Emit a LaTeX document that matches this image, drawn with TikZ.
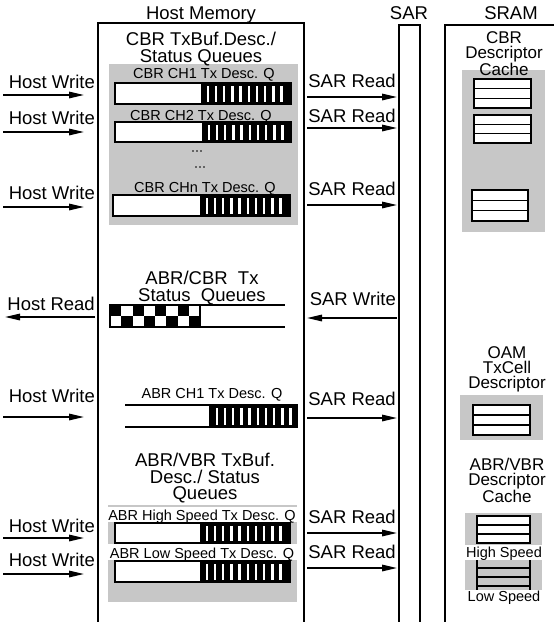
\documentclass[tikz,border=0pt]{standalone}
\usepackage{fontspec}
\setmainfont{Liberation Sans}
\usetikzlibrary{arrows.meta}
\newcommand\qbar[5]{%
  \fill[white] (#1,#4) rectangle (#3,#5);
  \fill[black] (#2,#4) rectangle (#3,#5);
  \pgfmathtruncatemacro\qn{(#3-#2-10)/8.2}%
  \foreach \k in {0,...,\qn}{\fill[white] ({#2+5.5+\k*8.2},{#4+2.5}) rectangle ({#2+8+\k*8.2},{#5-2.5});}%
  \draw[line width=1.4pt] (#1,#4) rectangle (#3,#5);}
\newcommand\dblock[5]{%
  \fill[white] (#1,#2) rectangle (#3,#4);
  \draw[line width=1.2pt] (#1,{#2+(#4-#2)/3}) -- (#3,{#2+(#4-#2)/3}) (#1,{#2+2*(#4-#2)/3}) -- (#3,{#2+2*(#4-#2)/3});
  \draw[line width=#5] (#1,#2) rectangle (#3,#4);}
\begin{document}
\begin{tikzpicture}[x=1pt,y=-1pt,
  big/.style={font=\fontsize{18.5}{17}\selectfont, inner sep=0pt},
  bigm/.style={font=\fontsize{18.5}{16.5}\selectfont, inner sep=0pt, align=center},
  srm/.style={font=\fontsize{17}{15.2}\selectfont, inner sep=0pt, align=center},
  sm/.style={font=\fontsize{14.5}{15}\selectfont, inner sep=0pt},
  arr/.style={line width=1.6pt, -{Triangle[length=15pt,width=6.5pt]}},
  box/.style={line width=1.5pt},
  shade/.style={fill=black!22},
  bline/.style={line width=1.4pt}]
\useasboundingbox (0,0) rectangle (555,622);
% main boxes
\draw[box] (98,622) -- (98,23) -- (304,23) -- (304,622);
\draw[box] (399,622) -- (399,25) -- (420,25) -- (420,622);
\draw[box] (445,622) -- (445,25) -- (554,25);
\node[big,anchor=base] (hm) at (201,19) {Host Memory};
\node[big,anchor=base] (sar) at (409,19) {SAR};
\node[big,anchor=base] (sram) at (511,19) {SRAM};
% CBR queues
\fill[shade] (109,64) rectangle (298,225);
\node[bigm,anchor=north] (cbrq) at (201,32) {CBR TxBuf.Desc./\\Status Queues};
\node[sm,anchor=base] (ch1) at (204,78) {CBR CH1 Tx Desc. Q};
\qbar{115}{201}{291}{83}{104}
\node[sm,anchor=base] (ch2) at (201,120) {CBR CH2 Tx Desc. Q};
\qbar{115}{202}{291}{122}{142}
\foreach \d in {0,1,2} {\fill ({193+\d*4},151) circle (0.8); \fill ({196+\d*4},167) circle (0.8);}
\node[sm,anchor=base] (chn) at (205,192) {CBR CHn Tx Desc. Q};
\qbar{113}{200}{290}{195}{216}
% ABR/CBR status
\node[bigm,anchor=north] (stq) at (202,271) {ABR/CBR\ \ Tx\\Status\ \ Queues};
\foreach \i in {0,2,4,6} {\fill ({110+\i*11.25},305) rectangle ++(11.25,11);}
\foreach \i in {1,3,5,7} {\fill ({110+\i*11.25},316) rectangle ++(11.25,11);}
\draw[bline] (110,305) rectangle (200,327);
\draw[bline] (200,305) -- (285,305) (200,327) -- (285,327);
% ABR CH1
\node[sm,anchor=base] (abr1) at (212,398) {ABR CH1 Tx Desc. Q};
\fill[black] (210,405) rectangle (298,427);
\foreach \k in {0,...,9} {\fill[white] ({215.5+\k*8.2},407.5) rectangle ({218+\k*8.2},424.5);}
\draw[bline] (125,405) -- (298,405) (125,427) -- (298,427) (210,405) -- (210,427);
% ABR/VBR queues
\node[bigm,anchor=north] (avq) at (205,453) {ABR/VBR TxBuf.\\Desc./ Status\\Queues};
\fill[shade] (108,505) rectangle (297,602);
\fill[white] (108,507) rectangle (297,522);
\fill[white] (108,544) rectangle (297,560);
\node[sm,anchor=base] (hsq) at (202,520) {ABR High Speed Tx Desc. Q};
\qbar{115}{200}{290}{523}{543}
\node[sm,anchor=base] (lsq) at (202,558) {ABR Low Speed Tx Desc. Q};
\qbar{115}{200}{290}{561}{582}
% SRAM contents
\fill[shade] (462,70) rectangle (545,232);
\node[srm,anchor=north] (cbrc) at (504,31) {CBR\\Descriptor\\Cache};
\dblock{474}{79}{531}{108}{1.8pt}
\dblock{474}{115}{531}{143}{1.8pt}
\dblock{472}{190}{528}{221}{2.4pt}
\node[srm,anchor=north] (oam) at (507,346) {OAM\\TxCell\\Descriptor};
\fill[shade] (460,395) rectangle (543,440);
\dblock{473}{405}{530}{435}{1.8pt}
\node[srm,anchor=north] (avc) at (507,458) {ABR/VBR\\Descriptor\\Cache};
\fill[shade] (465,513) rectangle (542,545);
\dblock{477}{516}{530}{543}{1.6pt}
\node[sm,anchor=base] (hsp) at (504,557) {High Speed};
\fill[shade] (465,560) rectangle (542,590);
\draw[line width=1.4pt] (477,560) -- (477,590) (530,560) -- (530,590);
\draw[line width=1.6pt] (477,568) -- (530,568) (477,586) -- (530,586);
\draw[line width=1.1pt] (477,577) -- (530,577);
\node[sm,anchor=base,fill=white,inner sep=1pt] (lsp) at (504,601) {Low Speed};
% left arrows and labels
\node[big,anchor=base east] (hw1) at (95,88) {Host Write};
\coordinate (hw1a) at (3,95); \coordinate (hw1b) at (84,95);
\draw[arr] (hw1a) -- (hw1b);
\node[big,anchor=base east] (hw2) at (95,124) {Host Write};
\coordinate (hw2a) at (3,132); \coordinate (hw2b) at (84,132);
\draw[arr] (hw2a) -- (hw2b);
\node[big,anchor=base east] (hw3) at (95,199) {Host Write};
\coordinate (hw3a) at (3,207); \coordinate (hw3b) at (84,207);
\draw[arr] (hw3a) -- (hw3b);
\node[big,anchor=base east] (hr) at (95,310) {Host Read};
\coordinate (hra) at (95,317); \coordinate (hrb) at (5,317);
\draw[arr] (hra) -- (hrb);
\node[big,anchor=base east] (hw4) at (95,402) {Host Write};
\coordinate (hw4a) at (3,417); \coordinate (hw4b) at (84,417);
\draw[arr] (hw4a) -- (hw4b);
\node[big,anchor=base east] (hw5) at (95,532) {Host Write};
\coordinate (hw5a) at (3,538); \coordinate (hw5b) at (84,538);
\draw[arr] (hw5a) -- (hw5b);
\node[big,anchor=base east] (hw6) at (95,566) {Host Write};
\coordinate (hw6a) at (3,574); \coordinate (hw6b) at (84,574);
\draw[arr] (hw6a) -- (hw6b);
% SAR arrows and labels
\node[big,anchor=base east] (sr1) at (396,87) {SAR Read};
\coordinate (sr1a) at (307,97); \coordinate (sr1b) at (397,97);
\draw[arr] (sr1a) -- (sr1b);
\node[big,anchor=base east] (sr2) at (396,122) {SAR Read};
\coordinate (sr2a) at (307,128); \coordinate (sr2b) at (397,128);
\draw[arr] (sr2a) -- (sr2b);
\node[big,anchor=base east] (sr3) at (396,195) {SAR Read};
\coordinate (sr3a) at (307,205); \coordinate (sr3b) at (397,205);
\draw[arr] (sr3a) -- (sr3b);
\node[big,anchor=base east] (sw) at (396,305) {SAR Write};
\coordinate (swa) at (397,318); \coordinate (swb) at (307,318);
\draw[arr] (swa) -- (swb);
\node[big,anchor=base east] (sr4) at (396,405) {SAR Read};
\coordinate (sr4a) at (307,418); \coordinate (sr4b) at (397,418);
\draw[arr] (sr4a) -- (sr4b);
\node[big,anchor=base east] (sr5) at (396,523) {SAR Read};
\coordinate (sr5a) at (307,533); \coordinate (sr5b) at (397,533);
\draw[arr] (sr5a) -- (sr5b);
\node[big,anchor=base east] (sr6) at (396,558) {SAR Read};
\coordinate (sr6a) at (307,568); \coordinate (sr6b) at (397,568);
\draw[arr] (sr6a) -- (sr6b);
\end{tikzpicture}
\end{document}
